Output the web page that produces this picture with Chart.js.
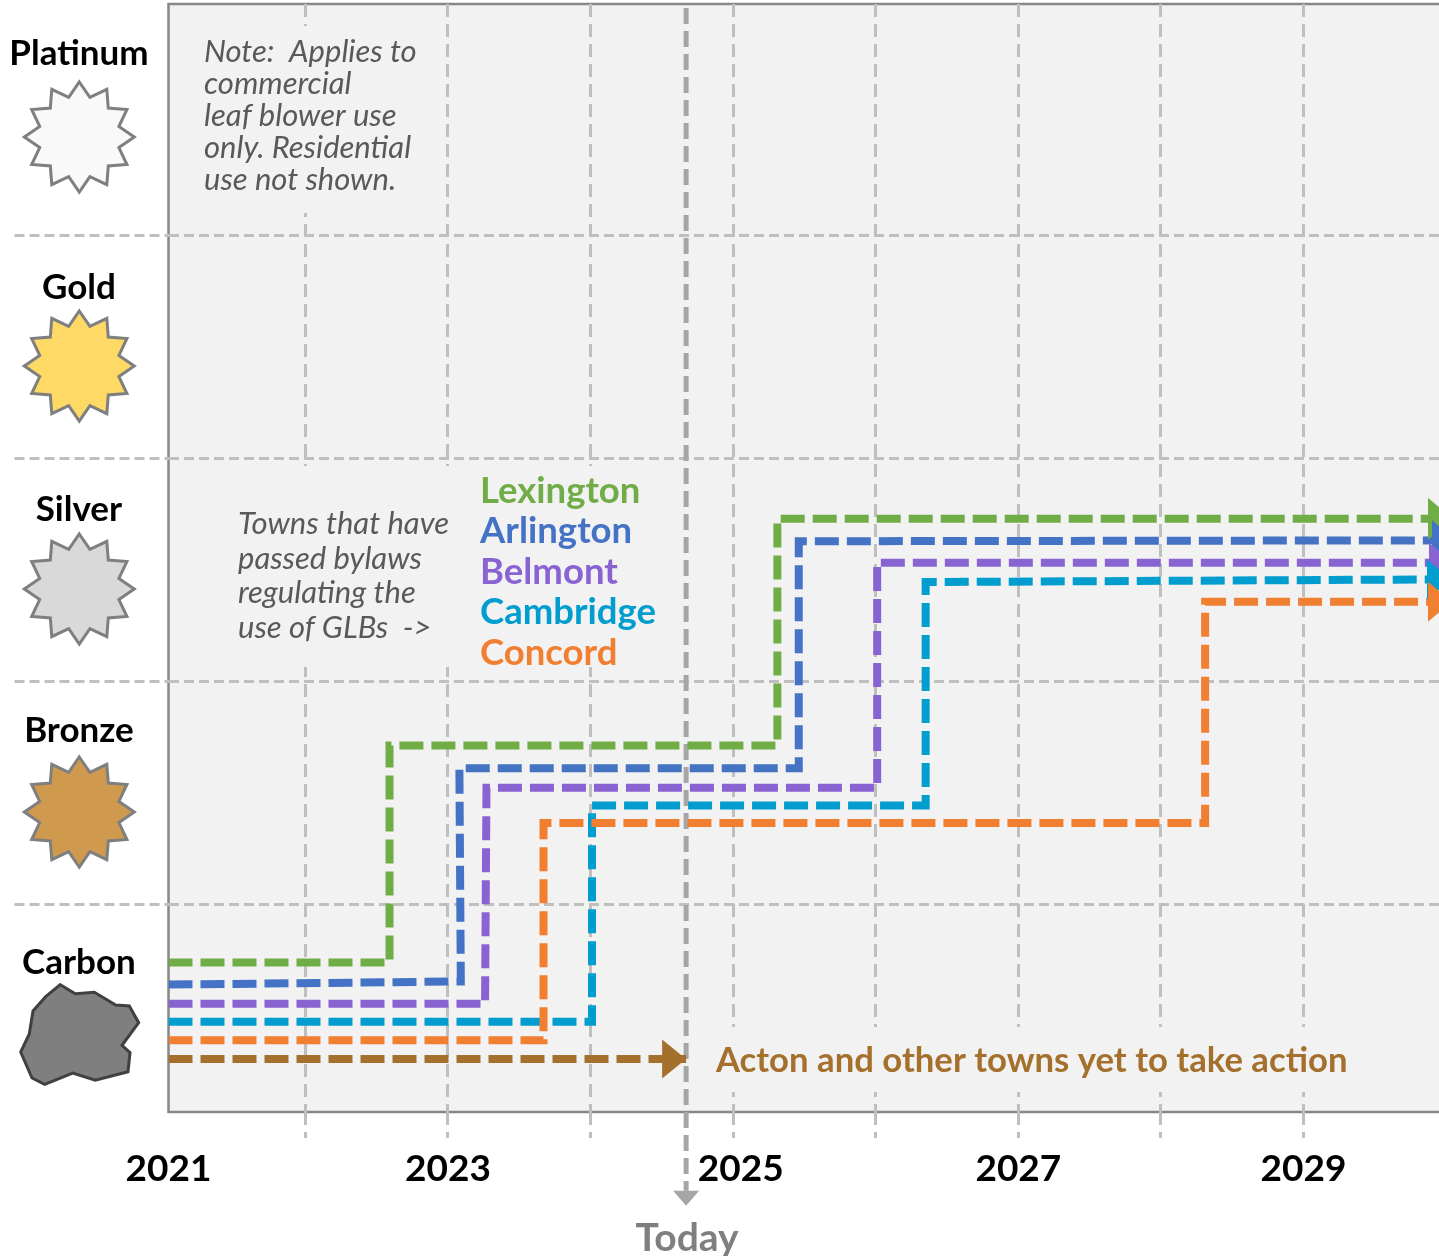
<!DOCTYPE html>
<html>
<head>
<meta charset="utf-8">
<style>html,body{margin:0;padding:0;background:#fff}canvas{display:block}</style>
<script src="https://cdn.jsdelivr.net/npm/chart.js@4/dist/chart.umd.min.js"></script>
</head>
<body>
<canvas id="c" width="1439" height="1256"></canvas>
<script>
// Axis content
const gridYears = [2022, 2023, 2024, 2025, 2026, 2027, 2028, 2029];
const yearLabels = ['2021', '2023', '2025', '2027', '2029'];
const yearLabelAt = [2021.04, 2023, 2025.053, 2027, 2029];
const tierLabels = ['Platinum', 'Gold', 'Silver', 'Bronze', 'Carbon'];
const tierLabelAt = [4.811, 3.766, 2.771, 1.78, 0.739];
const tierBoundaries = [1, 2, 3, 4];

// Series (year, tier level)
const lexingtonX = [2021.04, 2022.59, 2022.59, 2025.31, 2025.31, 2029.95];
const lexingtonY = [0.740, 0.740, 1.713, 1.713, 2.729, 2.729];
const arlingtonX = [2021.04, 2023.09, 2023.08, 2025.46, 2025.46, 2029.95];
const arlingtonY = [0.641, 0.655, 1.611, 1.611, 2.628, 2.632];
const belmontX = [2021.04, 2023.26, 2023.27, 2026.01, 2026.01, 2029.95];
const belmontY = [0.555, 0.555, 1.523, 1.523, 2.532, 2.532];
const cambridgeX = [2021.04, 2024.01, 2024.01, 2026.35, 2026.35, 2029.95];
const cambridgeY = [0.474, 0.474, 1.444, 1.444, 2.445, 2.457];
const concordX = [2021.04, 2023.67, 2023.67, 2028.31, 2028.31, 2029.95];
const concordY = [0.392, 0.392, 1.365, 1.365, 2.357, 2.357];
const actonX = [2021.04, 2024.67];
const actonY = [0.308, 0.308];
const todayX = [2024.67, 2024.67];
const todayY = [5.018, -0.283];

const FONT = 'Lato, Carlito, sans-serif';
const pts = (xs, ys) => xs.map((x, i) => ({x, y: ys[i]}));
const line = (label, xs, ys, color, order, extra) => Object.assign({
  label, data: pts(xs, ys), borderColor: color, backgroundColor: color,
  borderWidth: 8, borderDash: [24, 8], borderCapStyle: 'butt', borderJoinStyle: 'miter',
  pointRadius: 0, tension: 0, order
}, extra || {});

const COLORS = {lex:'#70ad47', arl:'#4472c4', bel:'#8a63d2', cam:'#009dce', con:'#f07f32', act:'#a5702c', today:'#a6a6a6'};

// arrow heads: {dataset index, back, forward, half height}
const arrows = [
  {i:0, back:11, tip:13, hh:21},
  {i:1, back:7, tip:17, hh:20},
  {i:2, back:10, tip:14, hh:20},
  {i:3, back:12, tip:12, hh:20},
  {i:4, back:11, tip:13, hh:20},
  {i:5, back:24, tip:0, hh:19.5}
];

const STAR_FILLS = ['#f9f9f9', '#ffd966', '#d9d9d9', '#d09a4e'];
const STAR_Y = [137, 366, 589, 812];
const CARBON_X = [60.3,75.3,94.3,115.7,129.3,138.7,122,130,128,95.3,72.7,44.7,32,20.7,29.3,33,45.7];
const CARBON_Y = [984.7,993.7,992.3,1005,1006,1022.7,1045.3,1052.7,1071.7,1080.3,1073,1084.3,1078,1052,1034,1011,996.7];

const noteLines = ['Note:  Applies to', 'commercial', 'leaf blower use', 'only. Residential', 'use not shown.'];
const townsLines = ['Towns that have', 'passed bylaws', 'regulating the', 'use of GLBs  ->'];
const legendNames = ['Lexington', 'Arlington', 'Belmont', 'Cambridge', 'Concord'];
const legendColors = [COLORS.lex, COLORS.arl, COLORS.bel, COLORS.cam, COLORS.con];

const decor = {
  id: 'decor',
  beforeDraw(chart) {
    const {ctx, chartArea: a} = chart;
    ctx.save();
    ctx.fillStyle = '#f2f2f2';
    ctx.fillRect(a.left, a.top, a.right - a.left, a.bottom - a.top);
    ctx.strokeStyle = '#878787';
    ctx.lineWidth = 2.5;
    ctx.beginPath();
    ctx.moveTo(a.right, a.top); ctx.lineTo(a.left, a.top); ctx.lineTo(a.left, a.bottom); ctx.lineTo(a.right, a.bottom);
    ctx.stroke();
    // tier icons
    ctx.lineJoin = 'miter';
    STAR_Y.forEach((cy, k) => {
      ctx.beginPath();
      for (let i = 0; i < 24; i++) {
        const r = i % 2 ? 41 : 55, t = -Math.PI / 2 + i * Math.PI / 12;
        const px = 79.3 + r * Math.cos(t), py = cy + r * Math.sin(t);
        i ? ctx.lineTo(px, py) : ctx.moveTo(px, py);
      }
      ctx.closePath();
      ctx.fillStyle = STAR_FILLS[k]; ctx.fill();
      ctx.strokeStyle = '#7f7f7f'; ctx.lineWidth = 3; ctx.stroke();
    });
    ctx.beginPath();
    CARBON_X.forEach((x, i) => i ? ctx.lineTo(x, CARBON_Y[i]) : ctx.moveTo(x, CARBON_Y[i]));
    ctx.closePath();
    ctx.fillStyle = '#7f7f7f'; ctx.fill();
    ctx.strokeStyle = '#404040'; ctx.lineWidth = 3; ctx.stroke();
    ctx.restore();
  },
  beforeDatasetsDraw(chart) {
    const {ctx} = chart;
    ctx.save();
    ctx.fillStyle = '#f2f2f2';
    ctx.fillRect(190, 26, 245, 187);
    ctx.fillRect(225, 466, 445, 201);
    ctx.fillRect(704, 1027, 670, 65);
    ctx.textBaseline = 'middle';
    ctx.textAlign = 'left';
    ctx.fillStyle = '#595959';
    ctx.font = 'italic 31px ' + FONT;
    noteLines.forEach((t, i) => ctx.fillText(t, 204, 52 + i * 32));
    townsLines.forEach((t, i) => ctx.fillText(t, 238, 524 + i * 34.7));
    ctx.font = 'bold 36.5px ' + FONT;
    legendNames.forEach((t, i) => { ctx.fillStyle = legendColors[i]; ctx.fillText(t, 480, 491 + i * 40.5); });
    ctx.fillStyle = COLORS.act;
    ctx.font = 'bold 34.7px ' + FONT;
    ctx.fillText('Acton and other towns yet to take action', 716, 1061);
    ctx.restore();
  },
  afterDatasetsDraw(chart) {
    const {ctx} = chart;
    ctx.save();
    arrows.forEach(a => {
      const pts = chart.getDatasetMeta(a.i).data, p = pts[pts.length - 1];
      ctx.fillStyle = chart.data.datasets[a.i].borderColor;
      ctx.beginPath();
      ctx.moveTo(p.x - a.back, p.y - a.hh);
      ctx.lineTo(p.x + a.tip, p.y);
      ctx.lineTo(p.x - a.back, p.y + a.hh);
      ctx.closePath();
      ctx.fill();
    });
    const tp = chart.getDatasetMeta(6).data[1];
    ctx.fillStyle = COLORS.today;
    ctx.beginPath();
    ctx.moveTo(tp.x - 13, tp.y); ctx.lineTo(tp.x + 13, tp.y); ctx.lineTo(tp.x, tp.y + 15);
    ctx.closePath(); ctx.fill();
    ctx.fillStyle = '#7f7f7f';
    ctx.font = 'bold 39px ' + FONT;
    ctx.textAlign = 'center'; ctx.textBaseline = 'middle';
    ctx.fillText('Today', tp.x + 1, 1238);
    ctx.restore();
  }
};

const noPad = s => { s.paddingTop = 0; s.paddingBottom = 0; s.paddingLeft = 0; s.paddingRight = 0; };

new Chart(document.getElementById('c'), {
  type: 'line',
  plugins: [decor],
  data: {
    datasets: [
      line('Lexington', lexingtonX, lexingtonY, COLORS.lex, 6),
      line('Arlington', arlingtonX, arlingtonY, COLORS.arl, 5),
      line('Belmont', belmontX, belmontY, COLORS.bel, 4),
      line('Cambridge', cambridgeX, cambridgeY, COLORS.cam, 3),
      line('Concord', concordX, concordY, COLORS.con, 2),
      line('Acton', actonX, actonY, COLORS.act, 1),
      line('Today', todayX, todayY, COLORS.today, 10, {borderWidth: 5, borderDash: [16, 7], clip: false})
    ]
  },
  options: {
    responsive: false,
    animation: false,
    layout: {padding: {top: 4, right: 0, left: 0, bottom: 0}},
    plugins: {legend: {display: false}, tooltip: {enabled: false}, title: {display: false}},
    scales: {
      x: {
        type: 'linear', position: 'bottom', weight: 0, min: 2021.04, max: 2029.95, bounds: 'data',
        afterBuildTicks: s => { s.ticks = gridYears.map(value => ({value})); },
        afterFit: s => { s.height = 0; noPad(s); },
        ticks: {display: false},
        border: {display: false, dash: [13, 7]},
        grid: {color: '#bfbfbf', lineWidth: 3, tickColor: '#bfbfbf', tickWidth: 3, tickLength: 26,
               tickBorderDash: [13, 7], drawTicks: true}
      },
      xLabels: {
        type: 'linear', axis: 'x', position: 'bottom', weight: 1, min: 2021.04, max: 2029.95, bounds: 'data',
        afterBuildTicks: s => { s.ticks = yearLabelAt.map(value => ({value})); },
        afterFit: s => { s.height = 144; noPad(s); },
        border: {display: false},
        grid: {display: false, drawTicks: false},
        ticks: {
          autoSkip: false, maxRotation: 0, padding: 35, color: '#000',
          font: {family: FONT, weight: 'bold', size: 37},
          callback: (v, i) => yearLabels[i]
        }
      },
      y: {
        type: 'linear', position: 'left', weight: 0, min: 0.07, max: 5.036, bounds: 'data',
        afterBuildTicks: s => { s.ticks = tierBoundaries.map(value => ({value})); },
        afterFit: s => { s.width = 0; noPad(s); },
        ticks: {display: false},
        border: {display: false, dash: [10, 5]},
        grid: {color: '#bfbfbf', lineWidth: 3, tickColor: '#bfbfbf', tickWidth: 3, tickLength: 154,
               tickBorderDash: [10, 5], drawTicks: true}
      },
      yLabels: {
        type: 'linear', axis: 'y', position: 'left', weight: 1, min: 0.07, max: 5.036, bounds: 'data',
        afterBuildTicks: s => { s.ticks = tierLabelAt.map(value => ({value})).sort((a, b) => a.value - b.value); },
        afterFit: s => { s.width = 168.5; noPad(s); },
        border: {display: false},
        grid: {display: false, drawTicks: false},
        ticks: {
          autoSkip: false, crossAlign: 'center', padding: 20, color: '#000',
          font: {family: FONT, weight: 'bold', size: 35},
          callback: (v) => tierLabels[tierLabelAt.indexOf(v)]
        }
      }
    }
  }
});
</script>
</body>
</html>
